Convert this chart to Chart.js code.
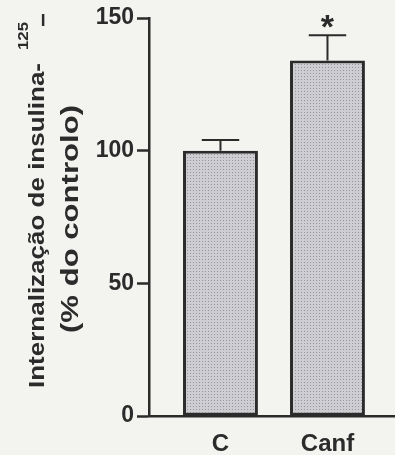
<!DOCTYPE html>
<html>
<head>
<meta charset="utf-8">
<script src="https://cdn.jsdelivr.net/npm/chart.js@4/dist/chart.umd.min.js"></script>
<style>
  html, body { margin: 0; padding: 0; background: #f3f3f0; }
  #wrap { width: 395px; height: 455px; position: relative; }
</style>
</head>
<body>
<div id="wrap"><canvas id="chart"></canvas></div>
<script>
// Insulin internalisation, % of control (mean ± SEM)
const categories = ['C', 'Canf'];
const internalizacao = [100, 134];
const erroPadrao = [4, 9.5];
const significativo = [false, true];
const yTicks = [0, 50, 100, 150];

const tituloLinha1 = 'Internalização de insulina-';
const tituloIsotopo = '125';
const tituloElemento = 'I';
const tituloLinha2 = '(% do controlo)';

const INK = '#2b2b2b';
const FONT = '"Liberation Sans", Arial, sans-serif';

// dotted grey screen used for the bar fill
function stipple() {
  const t = document.createElement('canvas');
  t.width = 3; t.height = 3;
  const g = t.getContext('2d');
  g.fillStyle = '#cdcdd2';
  g.fillRect(0, 0, 3, 3);
  g.fillStyle = '#93949e';
  g.fillRect(1, 1, 1, 1);
  return g.createPattern(t, 'repeat');
}

const errorBars = {
  id: 'errorBars',
  afterDatasetsDraw(chart) {
    const { ctx, scales: { y } } = chart;
    const meta = chart.getDatasetMeta(0);
    ctx.save();
    ctx.strokeStyle = INK;
    ctx.fillStyle = INK;
    ctx.lineWidth = 2;
    meta.data.forEach((bar, i) => {
      const top = y.getPixelForValue(internalizacao[i] + erroPadrao[i]);
      const half = bar.width / 4;
      ctx.beginPath();
      ctx.moveTo(bar.x, bar.y);
      ctx.lineTo(bar.x, top);
      ctx.moveTo(bar.x - half, top);
      ctx.lineTo(bar.x + half, top);
      ctx.stroke();
      if (significativo[i]) {
        ctx.font = 'bold 34px ' + FONT;
        ctx.textAlign = 'center';
        ctx.textBaseline = 'alphabetic';
        ctx.fillText('*', bar.x, top + 3);
      }
    });
    ctx.restore();
  }
};

// rotated two-line y-axis title with the isotope superscript
const yTitle = {
  id: 'yTitle',
  afterDraw(chart) {
    const { ctx, chartArea } = chart;
    ctx.save();
    ctx.fillStyle = INK;
    ctx.textBaseline = 'alphabetic';
    ctx.textAlign = 'left';

    // first line, read bottom to top
    ctx.save();
    ctx.translate(44, chartArea.bottom - 28);
    ctx.rotate(-Math.PI / 2);
    ctx.font = 'bold 22px ' + FONT;
    const w1 = ctx.measureText(tituloLinha1).width;
    const s1 = 325 / w1;
    ctx.save();
    ctx.scale(s1, 1);
    ctx.fillText(tituloLinha1, 0, 0);
    ctx.restore();
    ctx.font = 'bold 14px ' + FONT;
    const w2 = ctx.measureText(tituloIsotopo).width;
    ctx.save();
    ctx.translate(w1 * s1 + 13, -16);
    ctx.scale(28 / w2, 1);
    ctx.fillText(tituloIsotopo, 0, 0);
    ctx.restore();
    ctx.restore();

    // element symbol set upright after the superscript
    ctx.font = 'bold 17px ' + FONT;
    ctx.textAlign = 'center';
    ctx.fillText(tituloElemento, 43, 26);

    // second line
    ctx.save();
    ctx.translate(78, (chartArea.top + chartArea.bottom) / 2 + 2);
    ctx.rotate(-Math.PI / 2);
    ctx.font = 'bold 23px ' + FONT;
    const w3 = ctx.measureText(tituloLinha2).width;
    ctx.scale(228 / w3, 1);
    ctx.textAlign = 'center';
    ctx.fillText(tituloLinha2, 0, 0);
    ctx.restore();

    ctx.restore();
  }
};

new Chart(document.getElementById('chart'), {
  type: 'bar',
  data: {
    datasets: [{
      data: categories.map((c, i) => ({ x: i + 1, y: internalizacao[i] })),
      backgroundColor: stipple(),
      borderColor: INK,
      borderWidth: 3,
      borderSkipped: false,
      categoryPercentage: 1,
      barPercentage: 0.70
    }]
  },
  options: {
    responsive: true,
    maintainAspectRatio: false,
    animation: false,
    events: [],
    layout: { padding: { left: 97, top: 18, right: 0, bottom: 0 } },
    plugins: { legend: { display: false }, tooltip: { enabled: false } },
    scales: {
      x: {
        type: 'linear',
        offset: false,
        min: 0.332,
        max: 2.631,
        afterBuildTicks: (s) => { s.ticks = categories.map((c, i) => ({ value: i + 1 })); },
        afterFit: (s) => { s.height = 39; },
        ticks: {
          autoSkip: false,
          maxRotation: 0,
          padding: 14,
          color: INK,
          font: { family: FONT, size: 24, weight: 'bold' },
          callback: (v) => categories[v - 1] ?? ''
        },
        grid: { drawOnChartArea: false, drawTicks: false, offset: false },
        border: { color: INK, width: 2.5 }
      },
      y: {
        min: 0,
        max: 150,
        afterBuildTicks: (s) => { s.ticks = yTicks.map(v => ({ value: v })); },
        afterFit: (s) => { s.width = 52; },
        ticks: {
          padding: 3,
          color: INK,
          font: { family: FONT, size: 23, weight: 'bold' }
        },
        grid: { drawOnChartArea: false, tickLength: 12, tickWidth: 2.5, tickColor: INK },
        border: { color: INK, width: 2.5 }
      }
    }
  },
  plugins: [errorBars, yTitle]
});
</script>
</body>
</html>
